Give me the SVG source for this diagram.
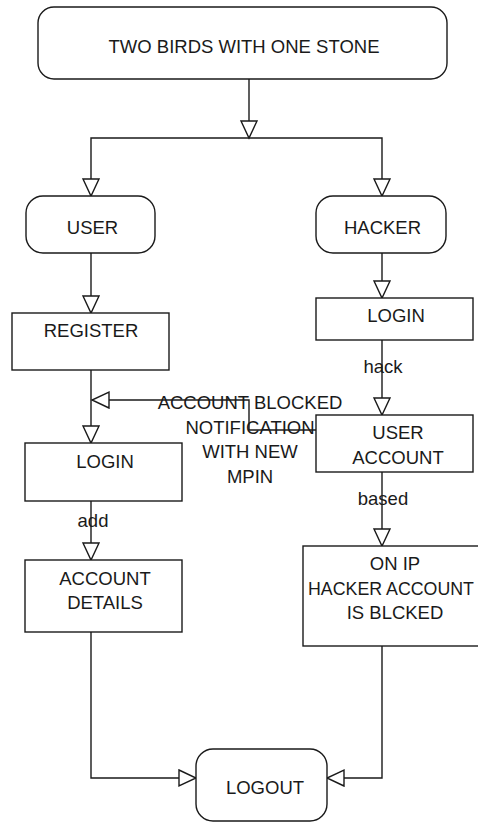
<svg xmlns="http://www.w3.org/2000/svg" width="478" height="823" viewBox="0 0 478 823">
<style>
  .box { fill: #ffffff; stroke: #1a1a1a; stroke-width: 1.4; }
  .line { fill: none; stroke: #1a1a1a; stroke-width: 1.4; }
  text { font-family: "Liberation Sans", Arial, sans-serif; font-size: 18.5px; fill: #1a1a1a; text-anchor: middle; }
  .tight { font-size: 17.8px; }
</style>
<defs>
  <marker id="arr" markerUnits="userSpaceOnUse" markerWidth="22" markerHeight="22" refX="18" refY="9" orient="auto">
    <path d="M1,1 L18,9 L1,17 Z" fill="#ffffff" stroke="#1a1a1a" stroke-width="1.4"/>
  </marker>
</defs>
<rect x="0" y="0" width="478" height="823" fill="#ffffff"/>
<g id="connectors">
  <path class="line" d="M249,79 V138" marker-end="url(#arr)"/>
  <path class="line" d="M249,138 H91 V196" marker-end="url(#arr)"/>
  <path class="line" d="M249,138 H382 V196" marker-end="url(#arr)"/>
  <path class="line" d="M91,253 V313" marker-end="url(#arr)"/>
  <path class="line" d="M382,253 V298" marker-end="url(#arr)"/>
  <path class="line" d="M382,340 V415" marker-end="url(#arr)"/>
  <text x="383" y="373">hack</text>
  <path class="line" d="M91,370 V443" marker-end="url(#arr)"/>
  <path class="line" d="M316,430 H249 V400 H92" marker-end="url(#arr)"/>
  <text x="250" y="409">ACCOUNT BLOCKED</text>
  <text x="250" y="433.5">NOTIFICATION</text>
  <text x="250" y="458">WITH NEW</text>
  <text x="250" y="483">MPIN</text>
  <path class="line" d="M91,501 V560" marker-end="url(#arr)"/>
  <text x="93" y="527">add</text>
  <path class="line" d="M382,472 V546" marker-end="url(#arr)"/>
  <text x="383" y="505">based</text>
  <path class="line" d="M91,632 V778 H196" marker-end="url(#arr)"/>
  <path class="line" d="M382,646 V778 H327" marker-end="url(#arr)"/>
</g>
<g id="start">
  <rect class="box" x="38" y="7" width="409" height="72" rx="16" ry="16"/>
  <text x="244" y="53">TWO BIRDS WITH ONE STONE</text>
</g>
<g id="user">
  <rect class="box" x="26" y="196" width="129" height="57" rx="17" ry="17"/>
  <text x="92.5" y="234">USER</text>
</g>
<g id="hacker">
  <rect class="box" x="316" y="196" width="130" height="57" rx="17" ry="17"/>
  <text x="382.5" y="234">HACKER</text>
</g>
<g id="register">
  <rect class="box" x="12" y="313" width="157" height="57"/>
  <text x="91" y="337">REGISTER</text>
</g>
<g id="hacker-login">
  <rect class="box" x="316" y="298" width="157" height="42"/>
  <text x="396" y="322">LOGIN</text>
</g>
<g id="user-account">
  <rect class="box" x="316" y="415" width="157" height="57"/>
  <text x="398" y="439">USER</text>
  <text x="398" y="463.5">ACCOUNT</text>
</g>
<g id="user-login">
  <rect class="box" x="25" y="443" width="157" height="58"/>
  <text x="105" y="468">LOGIN</text>
</g>
<g id="account-details">
  <rect class="box" x="25" y="560" width="157" height="72"/>
  <text x="105" y="585">ACCOUNT</text>
  <text x="105" y="609">DETAILS</text>
</g>
<g id="blocked">
  <rect class="box" x="303" y="546" width="184" height="100"/>
  <text x="395" y="570">ON IP</text>
  <text class="tight" x="391" y="595">HACKER ACCOUNT</text>
  <text x="395" y="619">IS BLCKED</text>
</g>
<g id="logout">
  <rect class="box" x="196" y="749" width="131" height="72" rx="17" ry="17"/>
  <text x="265" y="794">LOGOUT</text>
</g>
</svg>
